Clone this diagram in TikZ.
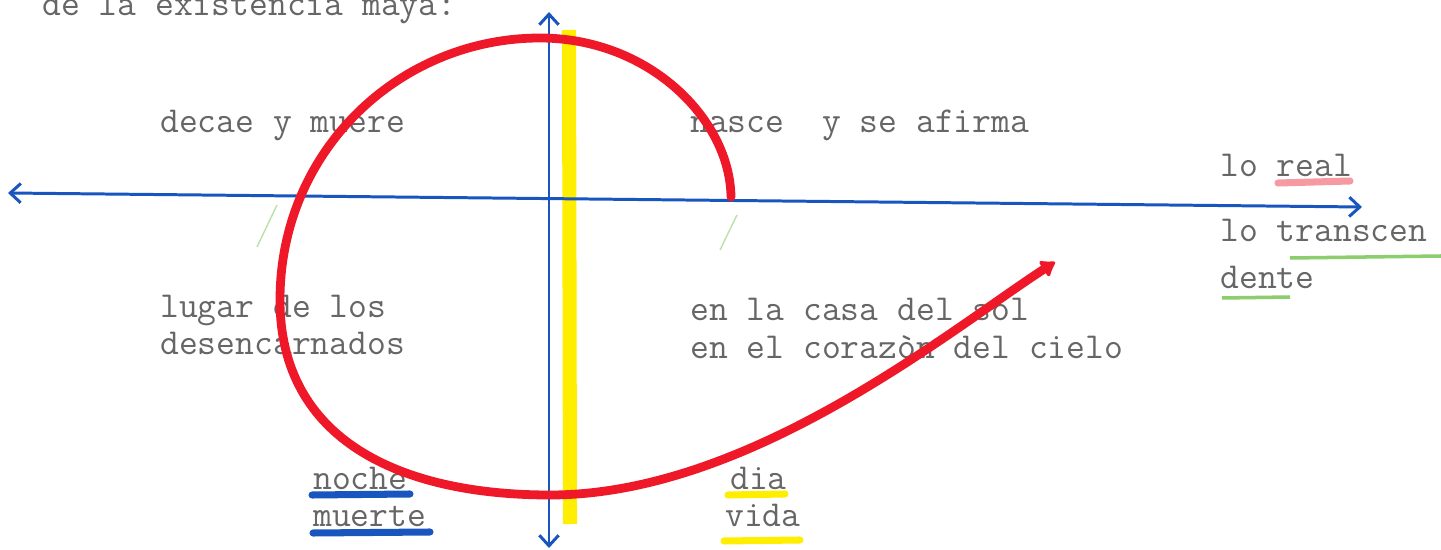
\documentclass[tikz,border=0pt]{standalone}
\usepackage{fontspec}
\usetikzlibrary{arrows.meta}

\definecolor{penblue}{RGB}{25,85,190}
\definecolor{penred}{RGB}{238,24,40}
\definecolor{hiyellow}{RGB}{255,238,0}
\definecolor{higreen}{RGB}{140,205,110}

\begin{document}
\begin{tikzpicture}[
          x=0.02cm, y=-0.02cm,
          typed/.style={
            font=\ttfamily\fontsize{20.8}{24}\selectfont,
            text=black!60, inner sep=0pt, anchor=base west
          },
          axis/.style={
            draw=penblue, line width=1.7pt,
            {Straight Barb[length=6pt,width=11pt]}-{Straight Barb[length=6pt,width=11pt]}
          },
          spiral/.style={
            draw=penred, line width=5pt, line cap=round,
            -{Latex[round,length=9pt,width=13pt]}
          },
          marker/.style={line width=4pt, line cap=round},
          pencil/.style={higreen, line width=0.8pt, opacity=0.6},
        ]
          \clip (0,0) rectangle (1441,550);
          \fill[white] (0,0) rectangle (1441,550);

          % Axis end points
          \coordinate (west) at (8,193);
          \coordinate (east) at (1362,207);
          \coordinate (north) at (549,12);
          \coordinate (south) at (549,548);

          % Yellow bar beside the vertical axis
          \draw[hiyellow, line width=8pt] (569,30) -- (570,524);

          % Axes
          \draw[axis] (west) -- (east);
          \draw[axis] (south) -- (north);

          % Typed labels
          \node[typed] (title) at (42,16) {de la existencia maya:};
          \node[typed] (decae) at (160,133) {decae y muere};
          \node[typed] (nasce) at (690,133) {nasce\ \ y se afirma};
          \node[typed] (real) at (1220,177) {lo real};
          \node[typed] (transc) at (1220,242) {lo transcen};
          \node[typed] (dente) at (1220,289) {dente};
          \node[typed] (lugar) at (160,318) {lugar de los};
          \node[typed] (desenc) at (160,355) {desencarnados};
          \node[typed] (casa) at (690,321) {en la casa del sol};
          \node[typed] (corazon) at (690,359) {en el corazòn del cielo};
          \node[typed] (noche) at (313,490) {noche};
          \node[typed] (muerte) at (313,526) {muerte};
          \node[typed] (dia) at (730,490) {dia};
          \node[typed] (vida) at (725,526) {vida};

          % Underlines
          \draw[marker, penblue] (312,495) -- (410,494);
          \draw[marker, penblue] (313,533) -- (430,532);
          \draw[marker, hiyellow] (728,495) -- (785,494);
          \draw[marker, hiyellow] (724,541) -- (800,540);
          \draw[marker, penred!55, opacity=0.8] (1278,183) -- (1350,181);
          \draw[higreen, line width=2pt] (1290,258) -- (1441,256);
          \draw[higreen, line width=2pt] (1222,298) -- (1290,297);

          % Pencil ticks
          \draw[pencil] (277,205) -- (257,247);
          \draw[pencil] (737,215) -- (720,250);

          % Red spiral
          \draw[spiral] (731,197) .. controls (730,120) and (650,38) .. (540,38)
            .. controls (400,38) and (280,150) .. (280,300)
            .. controls (280,440) and (400,495) .. (550,495)
            .. controls (750,495) and (950,330) .. (1055,262);
        \end{tikzpicture}
\end{document}
